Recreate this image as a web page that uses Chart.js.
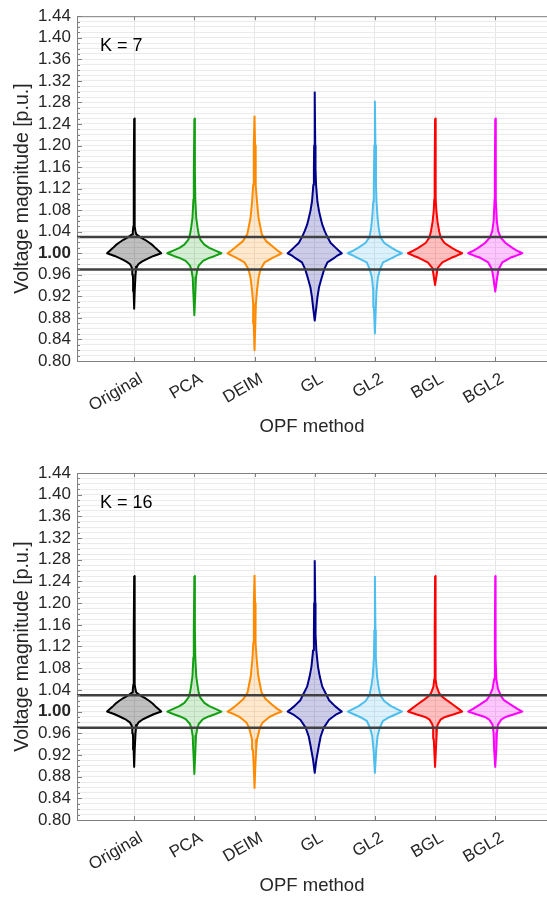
<!DOCTYPE html>
<html>
<head>
<meta charset="utf-8">
<script src="https://cdn.jsdelivr.net/npm/chart.js@4"></script>
<style>
  body { margin: 0; background: #fff; }
  canvas { display: block; }
</style>
</head>
<body>
<canvas id="chartK7" width="547" height="450"></canvas>
<canvas id="chartK16" width="547" height="447"></canvas>
<script>
/* ===================== DATA ===================== */

const METHODS = ["Original", "PCA", "DEIM", "GL", "GL2", "BGL", "BGL2"];
const EDGE = ["#000000", "#12a012", "#ff8a00", "#00008b", "#4dbeee", "#ff0000", "#ff00ff"];
const FILL = [
  "rgba(0,0,0,0.25)", "rgba(18,160,18,0.18)", "rgba(255,138,0,0.2)", "rgba(0,0,139,0.2)",
  "rgba(77,190,238,0.2)", "rgba(255,0,0,0.25)", "rgba(255,0,255,0.22)"
];
const LIMITS = [1.03, 0.97];

// violin outlines: voltage levels (top tip -> bottom tip) and relative density (0..1)
const k7Volt = [
  [1.25, 1.15, 1.10, 1.07, 1.05, 1.04, 1.035, 1.03, 1.025, 1.02, 1.015, 1.01, 1.005, 1.00, 0.995, 0.99, 0.985, 0.98, 0.975, 0.97, 0.96, 0.95, 0.93, 0.897],
  [1.25, 1.15, 1.10, 1.065, 1.047, 1.035, 1.0255, 1.016, 1.01, 1.005, 1.00, 0.995, 0.991, 0.986, 0.977, 0.967, 0.955, 0.93, 0.885],
  [1.255, 1.20, 1.157, 1.127, 1.096, 1.065, 1.035, 1.0225, 1.013, 1.005, 1.00, 0.995, 0.992, 0.983, 0.97, 0.955, 0.93, 0.906, 0.87, 0.82],
  [1.30, 1.20, 1.157, 1.127, 1.096, 1.078, 1.065, 1.053, 1.041, 1.03, 1.019, 1.01, 1.005, 1.00, 0.995, 0.992, 0.983, 0.97, 0.955, 0.937, 0.918, 0.90, 0.875],
  [1.283, 1.20, 1.127, 1.096, 1.065, 1.047, 1.03, 1.019, 1.01, 1.005, 1.00, 0.995, 0.992, 0.983, 0.97, 0.955, 0.93, 0.90, 0.851],
  [1.25, 1.15, 1.10, 1.078, 1.059, 1.041, 1.029, 1.019, 1.01, 1.005, 1.00, 0.995, 0.992, 0.983, 0.973, 0.961, 0.941],
  [1.25, 1.15, 1.10, 1.059, 1.041, 1.029, 1.019, 1.01, 1.005, 1.00, 0.995, 0.992, 0.983, 0.97, 0.955, 0.929]
];
const k7Dens = [
  [0, 0.01, 0.015, 0.02, 0.03, 0.05, 0.08, 0.22, 0.4, 0.55, 0.68, 0.78, 0.89, 1.0, 0.72, 0.5, 0.3, 0.16, 0.1, 0.07, 0.05, 0.04, 0.02, 0],
  [0, 0.02, 0.035, 0.07, 0.12, 0.16, 0.22, 0.37, 0.55, 0.78, 1.0, 0.76, 0.53, 0.32, 0.16, 0.1, 0.06, 0.04, 0],
  [0, 0.02, 0.035, 0.05, 0.09, 0.15, 0.27, 0.43, 0.66, 0.85, 1.0, 0.82, 0.68, 0.37, 0.22, 0.15, 0.09, 0.05, 0.03, 0],
  [0, 0.02, 0.03, 0.05, 0.1, 0.16, 0.22, 0.28, 0.37, 0.47, 0.59, 0.78, 0.88, 1.0, 0.82, 0.74, 0.47, 0.35, 0.26, 0.16, 0.1, 0.06, 0],
  [0, 0.02, 0.04, 0.06, 0.1, 0.14, 0.2, 0.35, 0.62, 0.8, 1.0, 0.78, 0.66, 0.3, 0.19, 0.11, 0.06, 0.035, 0],
  [0, 0.015, 0.03, 0.05, 0.09, 0.15, 0.21, 0.35, 0.62, 0.8, 1.0, 0.78, 0.62, 0.27, 0.1, 0.06, 0],
  [0, 0.015, 0.025, 0.06, 0.11, 0.2, 0.38, 0.63, 0.8, 1.0, 0.75, 0.57, 0.26, 0.12, 0.07, 0]
];

const k16Volt = [
  [1.25, 1.15, 1.10, 1.07, 1.05, 1.04, 1.035, 1.03, 1.025, 1.02, 1.015, 1.01, 1.005, 1.00, 0.995, 0.99, 0.985, 0.98, 0.975, 0.97, 0.96, 0.95, 0.93, 0.898],
  [1.25, 1.15, 1.10, 1.065, 1.047, 1.035, 1.0255, 1.016, 1.01, 1.005, 1.00, 0.995, 0.991, 0.986, 0.977, 0.967, 0.955, 0.93, 0.885],
  [1.252, 1.20, 1.157, 1.127, 1.096, 1.065, 1.035, 1.0225, 1.013, 1.005, 1.00, 0.995, 0.99, 0.98, 0.97, 0.948, 0.93, 0.90, 0.859],
  [1.279, 1.20, 1.143, 1.113, 1.083, 1.064, 1.046, 1.03, 1.021, 1.01, 1.005, 1.00, 0.995, 0.985, 0.97, 0.954, 0.936, 0.911, 0.887],
  [1.25, 1.15, 1.10, 1.065, 1.047, 1.03, 1.019, 1.01, 1.005, 1.00, 0.995, 0.99, 0.983, 0.97, 0.955, 0.93, 0.887],
  [1.25, 1.15, 1.10, 1.06, 1.046, 1.034, 1.028, 1.021, 1.012, 1.005, 1.00, 0.995, 0.99, 0.985, 0.976, 0.97, 0.95, 0.898],
  [1.25, 1.15, 1.10, 1.06, 1.042, 1.028, 1.021, 1.012, 1.005, 1.00, 0.995, 0.99, 0.985, 0.976, 0.96, 0.93, 0.898]
];
const k16Dens = [
  [0, 0.01, 0.015, 0.02, 0.03, 0.05, 0.08, 0.22, 0.4, 0.55, 0.68, 0.78, 0.89, 1.0, 0.72, 0.5, 0.3, 0.16, 0.1, 0.07, 0.05, 0.04, 0.02, 0],
  [0, 0.02, 0.035, 0.07, 0.12, 0.16, 0.22, 0.37, 0.55, 0.78, 1.0, 0.76, 0.53, 0.32, 0.16, 0.1, 0.06, 0.04, 0],
  [0, 0.02, 0.03, 0.045, 0.08, 0.14, 0.26, 0.42, 0.64, 0.84, 1.0, 0.75, 0.55, 0.3, 0.2, 0.09, 0.06, 0.03, 0],
  [0, 0.02, 0.03, 0.06, 0.12, 0.19, 0.28, 0.44, 0.53, 0.75, 0.87, 1.0, 0.8, 0.53, 0.33, 0.22, 0.15, 0.06, 0],
  [0, 0.02, 0.035, 0.08, 0.13, 0.2, 0.35, 0.6, 0.8, 1.0, 0.78, 0.55, 0.3, 0.18, 0.1, 0.05, 0],
  [0, 0.01, 0.015, 0.03, 0.06, 0.15, 0.25, 0.43, 0.68, 0.87, 1.0, 0.7, 0.37, 0.2, 0.1, 0.07, 0.05, 0],
  [0, 0.01, 0.015, 0.04, 0.1, 0.22, 0.32, 0.6, 0.82, 1.0, 0.7, 0.38, 0.22, 0.1, 0.06, 0.04, 0]
];

/* ===================== SETTINGS ===================== */

const X_MIN = 0.05, X_MAX = 7.86;
const Y_MIN = 0.80, Y_MAX = 1.44;
const HALF_W = 0.45;
const FONT = '"Liberation Sans", Arial, sans-serif';
const TXT = "#262626";

Chart.defaults.font.family = FONT;

/* ===================== HELPERS ===================== */

function violinPoints(pos, volts, dens) {
  const right = volts.map((v, i) => ({ x: pos + dens[i] * HALF_W, y: v }));
  const left = volts.map((v, i) => ({ x: pos - dens[i] * HALF_W, y: v })).reverse();
  return right.concat(left);
}

function isOne(ctx) {
  return !!(ctx && ctx.tick && Math.abs(ctx.tick.value - 1) < 1e-6);
}

const frame = {
  id: "frame",
  afterDraw(chart, args, opts) {
    const { ctx, chartArea: a, scales: { x, y } } = chart;
    ctx.save();
    ctx.strokeStyle = "#808080";
    ctx.lineWidth = 1;
    ctx.beginPath();
    ctx.moveTo(a.left, a.top + 0.5);
    ctx.lineTo(a.right, a.top + 0.5);
    METHODS.forEach((m, i) => {
      const px = Math.round(x.getPixelForValue(i + 1)) + 0.5;
      ctx.moveTo(px, a.top); ctx.lineTo(px, a.top + 4);
      ctx.moveTo(px, a.bottom); ctx.lineTo(px, a.bottom - 4);
    });
    for (let i = 80; i <= 144; i++) {
      const py = Math.round(y.getPixelForValue(i / 100)) + 0.5;
      const len = i % 4 === 0 ? 5 : 3;
      ctx.moveTo(a.left, py); ctx.lineTo(a.left + len, py);
    }
    ctx.stroke();
    ctx.fillStyle = "#000";
    ctx.font = "18px " + FONT;
    ctx.textBaseline = "middle";
    ctx.fillText(opts.label, a.left + 23, a.top + 30);
    ctx.restore();
  }
};

/* ===================== BUILD ===================== */

function buildPanel(canvasId, label, volts, dens, topPad, axisH, titlePad) {
  const datasets = METHODS.map((m, i) => ({
    label: m,
    data: violinPoints(i + 1, volts[i], dens[i]),
    showLine: true,
    fill: "shape",
    borderColor: EDGE[i],
    backgroundColor: FILL[i],
    borderWidth: 2,
    borderJoinStyle: "round",
    pointRadius: 0,
    order: 1
  }));

  LIMITS.forEach(v => datasets.push({
    label: "limit " + v,
    data: [{ x: X_MIN, y: v }, { x: X_MAX, y: v }],
    showLine: true,
    fill: false,
    borderColor: "#404040",
    borderWidth: 2.5,
    pointRadius: 0,
    order: 0
  }));

  return new Chart(document.getElementById(canvasId), {
    type: "scatter",
    data: { datasets },
    plugins: [frame],
    options: {
      responsive: false,
      animation: false,
      layout: { padding: { top: topPad, right: 0, left: 0, bottom: 0 } },
      plugins: {
        legend: { display: false },
        tooltip: { enabled: false },
        frame: { label }
      },
      scales: {
        x: {
          type: "linear",
          min: X_MIN,
          max: X_MAX,
          afterBuildTicks: s => { s.ticks = METHODS.map((m, i) => ({ value: i + 1 })); },
          afterFit: s => { s.height = axisH; },
          ticks: {
            autoSkip: false,
            minRotation: 30,
            maxRotation: 30,
            padding: 8,
            labelOffset: 7,
            color: TXT,
            font: { size: 17 },
            callback: (v, i) => METHODS[i]
          },
          grid: { color: "#e6e6e6", drawTicks: false },
          border: { color: "#808080" },
          title: { display: true, text: "OPF method", color: TXT, font: { size: 18.5 }, padding: titlePad }
        },
        y: {
          type: "linear",
          min: Y_MIN,
          max: Y_MAX,
          afterBuildTicks: s => {
            const t = [];
            for (let i = 80; i <= 144; i++) t.push({ value: i / 100 });
            s.ticks = t;
          },
          afterFit: s => { s.width = 77; },
          ticks: {
            autoSkip: false,
            padding: 6,
            color: TXT,
            font: ctx => ({ size: 17, weight: isOne(ctx) ? "bold" : "normal" }),
            callback: (v, i) => (i % 4 === 0 ? v.toFixed(2) : "")
          },
          grid: { color: "#ebebeb", drawTicks: false },
          border: { color: "#808080" },
          title: { display: true, text: "Voltage magnitude [p.u.]", color: TXT, font: { size: 19.5 }, padding: 11 }
        }
      }
    }
  });
}

buildPanel("chartK7", "K = 7", k7Volt, k7Dens, 13, 89, 12);
buildPanel("chartK16", "K = 16", k16Volt, k16Dens, 23, 77, 0);
</script>
</body>
</html>
